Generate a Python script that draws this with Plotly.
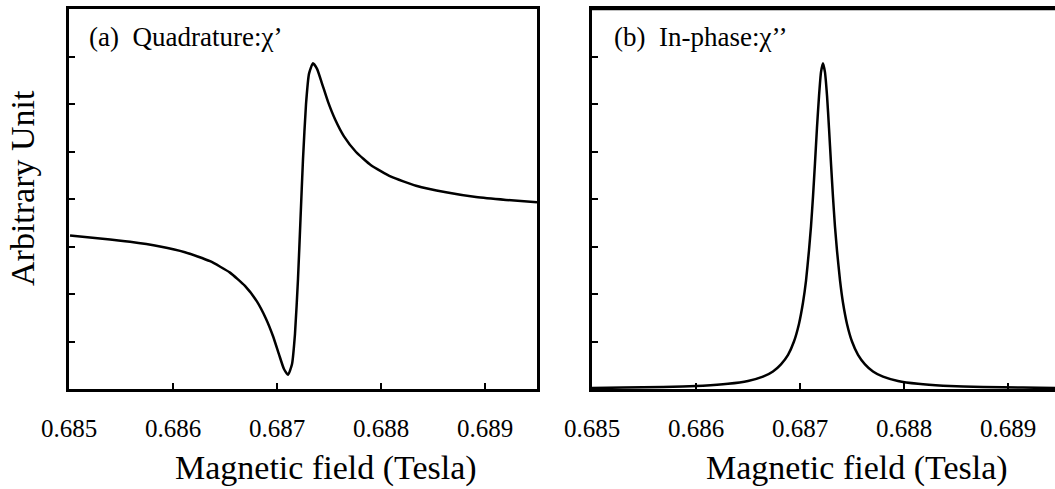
import plotly.graph_objects as go

# Quadrature signal (chi') vs magnetic field (Tesla), arbitrary units
field_a = [0.685010, 0.685298, 0.685587, 0.685875, 0.686115, 0.686356, 0.686548,
           0.686692, 0.686808, 0.686894, 0.686962, 0.687019, 0.687067, 0.687106,
           0.687144, 0.687173, 0.687202, 0.687226, 0.687250, 0.687279, 0.687308,
           0.687346, 0.687385, 0.687433, 0.687490, 0.687558, 0.687644, 0.687760,
           0.687904, 0.688096, 0.688337, 0.688625, 0.688913, 0.689202, 0.689500]
chi_a = [3.23, 3.17, 3.10, 3.00, 2.88, 2.69, 2.45,
         2.17, 1.84, 1.48, 1.11, 0.73, 0.42, 0.30,
         0.52, 1.16, 2.32, 3.58, 4.84, 6.00, 6.64,
         6.86, 6.74, 6.43, 6.05, 5.68, 5.32, 4.99,
         4.71, 4.47, 4.28, 4.14, 4.04, 3.98, 3.93]

# In-phase signal (chi'') vs magnetic field (Tesla), arbitrary units
field_b = [0.685000, 0.685298, 0.685683, 0.686067, 0.686308, 0.686500, 0.686644,
           0.686740, 0.686817, 0.686885, 0.686942, 0.686990, 0.687029, 0.687058,
           0.687086, 0.687106, 0.687125, 0.687144, 0.687163, 0.687183, 0.687202,
           0.687221,
           0.687240, 0.687260, 0.687279, 0.687298, 0.687317, 0.687336, 0.687356,
           0.687385, 0.687413, 0.687452, 0.687500, 0.687558, 0.687625, 0.687702,
           0.687798, 0.687942, 0.688135, 0.688375, 0.688760, 0.689144, 0.689452]
chi_b = [0.02, 0.03, 0.04, 0.07, 0.11, 0.17, 0.26,
         0.37, 0.52, 0.72, 1.00, 1.37, 1.82, 2.28,
         2.91, 3.43, 4.05, 4.75, 5.49, 6.17, 6.67,
         6.86,
         6.67, 6.17, 5.49, 4.75, 4.05, 3.43, 2.91,
         2.28, 1.82, 1.37, 1.00, 0.72, 0.52, 0.37,
         0.26, 0.17, 0.11, 0.07, 0.04, 0.03, 0.02]

x_ticks = [0.685, 0.686, 0.687, 0.688, 0.689]
x_ticklabels = ["0.685", "0.686", "0.687", "0.688", "0.689"]
y_ticks = [1, 2, 3, 4, 5, 6, 7]

panel_titles = ["(a)\u00a0 Quadrature:χ’", "(b)\u00a0 In-phase:χ’’"]
x_title = "Magnetic field (Tesla)"
y_title = "Arbitrary Unit"

FONT = "Liberation Serif"
W, H = 1055, 489


def px_x(p):
    return p / W


def px_y(p):
    return (H - p) / H


line_style = dict(color="black", width=2.5, shape="spline", smoothing=0.5)

fig = go.Figure()
fig.add_trace(go.Scatter(x=field_a, y=chi_a, mode="lines", xaxis="x", yaxis="y",
                         line=line_style, showlegend=False, hoverinfo="skip"))
fig.add_trace(go.Scatter(x=field_b, y=chi_b, mode="lines", xaxis="x2", yaxis="y2",
                         line=line_style, showlegend=False, hoverinfo="skip"))

common_x = dict(tickvals=x_ticks, showticklabels=False, ticks="inside", ticklen=6,
                tickwidth=2, tickcolor="black", showline=True, linecolor="black",
                linewidth=2.5, mirror=True, showgrid=False, zeroline=False,
                automargin=False)
common_y = dict(tickvals=y_ticks, showticklabels=False, ticks="inside", ticklen=6,
                tickwidth=2, tickcolor="black", showline=True, linecolor="black",
                linewidth=2.5, showgrid=False, zeroline=False, range=[0, 8],
                automargin=False)

top, bottom = 9, 389
fig.update_layout(
    width=W, height=H, margin=dict(l=0, r=0, t=0, b=0, autoexpand=False),
    paper_bgcolor="white", plot_bgcolor="white",
    xaxis=dict(domain=[px_x(69), px_x(537)], range=[0.685, 0.6895], anchor="y", **common_x),
    yaxis=dict(domain=[px_y(bottom), px_y(top)], anchor="x", mirror=True, **common_y),
    xaxis2=dict(domain=[px_x(592), 1.0], range=[0.685, 0.689452], anchor="y2", **common_x),
    yaxis2=dict(domain=[px_y(bottom), px_y(top)], anchor="x2", mirror=False, **common_y),
)

# right panel is cut at the right edge: draw only its top border there
fig.add_shape(type="line", xref="paper", yref="paper", x0=px_x(592), x1=1.0,
              y0=px_y(top), y1=px_y(top), line=dict(color="black", width=2.5))

ann = []
# tick labels under each panel, placed on the data scale
for xref in ("x", "x2"):
    for v, t in zip(x_ticks, x_ticklabels):
        ann.append(dict(text=t, xref=xref, yref="paper", x=v, y=px_y(428),
                        xanchor="center", yanchor="middle", showarrow=False,
                        font=dict(family=FONT, size=25, color="black")))
ann.append(dict(text=panel_titles[0], xref="paper", yref="paper", x=px_x(87), y=px_y(37),
                xanchor="left", yanchor="middle", showarrow=False,
                font=dict(family=FONT, size=27, color="black")))
ann.append(dict(text=panel_titles[1], xref="paper", yref="paper", x=px_x(612), y=px_y(37),
                xanchor="left", yanchor="middle", showarrow=False,
                font=dict(family=FONT, size=27, color="black")))
for cx in (326, 857):
    ann.append(dict(text=x_title, xref="paper", yref="paper", x=px_x(cx), y=px_y(468),
                    xanchor="center", yanchor="middle", showarrow=False,
                    font=dict(family=FONT, size=34, color="black")))
ann.append(dict(text=y_title, xref="paper", yref="paper", x=px_x(22), y=px_y(188),
                xanchor="center", yanchor="middle", showarrow=False, textangle=-90,
                font=dict(family=FONT, size=34, color="black")))
fig.update_layout(annotations=ann)

fig.write_html("out.html")
